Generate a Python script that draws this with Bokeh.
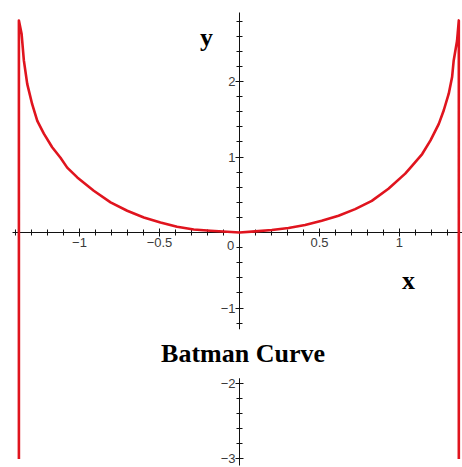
from bokeh.plotting import figure
from bokeh.models import FixedTicker, Label, Range1d, ColumnDataSource
from bokeh.embed import file_html
from bokeh.resources import INLINE

# Curve traced as a single path: left vertical branch, the bowl, right vertical branch
curve_x = [-1.379, -1.379, -1.362, -1.348, -1.327, -1.296, -1.264, -1.223, -1.171,
           -1.119, -1.077, -1.014, -0.911, -0.806, -0.702, -0.598, -0.494, -0.390,
           -0.286, -0.181, -0.077, 0.0, 0.098, 0.202, 0.306, 0.410, 0.514, 0.619,
           0.723, 0.827, 0.931, 1.036, 1.069, 1.142, 1.194, 1.246, 1.277, 1.308,
           1.329, 1.339, 1.360, 1.371, 1.371]
curve_y = [-3.0, 2.81, 2.63, 2.28, 1.97, 1.70, 1.48, 1.31, 1.13,
           0.99, 0.86, 0.73, 0.554, 0.40, 0.289, 0.20, 0.134, 0.077,
           0.041, 0.024, 0.010, 0.0, 0.015, 0.033, 0.060, 0.10, 0.157, 0.223,
           0.31, 0.42, 0.58, 0.78, 0.86, 1.04, 1.22, 1.44, 1.62, 1.84,
           2.06, 2.28, 2.54, 2.81, -3.0]

x_major = [-1, -0.5, 0, 0.5, 1]
x_minor = [round(-1.4 + 0.1 * i, 1) for i in range(28)]
y_major = [-3, -2, -1, 0, 1, 2]
y_minor = [round(-3.0 + 0.2 * i, 1) for i in range(30)]

title_text = "Batman Curve"
x_name = "x"
y_name = "y"

p = figure(width=462, height=467,
           x_range=Range1d(-1.494, 1.394), y_range=Range1d(-3.113, 3.074),
           output_backend="svg", toolbar_location=None, min_border=0)
p.outline_line_color = None
p.background_fill_color = "white"
p.border_fill_color = "white"
p.xgrid.visible = False
p.ygrid.visible = False

for ax in (p.xaxis[0], p.yaxis[0]):
    ax.fixed_location = 0
    ax.axis_line_color = "#111111"
    ax.axis_line_width = 1
    ax.major_tick_line_color = "#111111"
    ax.minor_tick_line_color = "#111111"
    ax.major_tick_in = 4
    ax.major_tick_out = 4
    ax.minor_tick_in = 3
    ax.minor_tick_out = 3
    ax.major_label_text_font = "Liberation Sans"
    ax.major_label_text_font_size = "13px"
    ax.major_label_text_color = "#3a3a3a"

p.xaxis.ticker = FixedTicker(ticks=x_major, minor_ticks=x_minor)
p.xaxis.bounds = (-1.42, 1.40)
p.xaxis.major_label_overrides = {0: ""}
p.xaxis.major_label_standoff = 1

p.yaxis.ticker = FixedTicker(ticks=y_major, minor_ticks=y_minor)
p.yaxis.bounds = (-3.08, 2.92)
p.yaxis.major_label_overrides = {0: ""}
p.yaxis.major_label_standoff = 0

src = ColumnDataSource(data=dict(x=curve_x, y=curve_y))
p.line("x", "y", source=src, line_color="#e0141e", line_width=2.6,
       line_join="round", level="overlay")

# origin label sits just left of the vertical axis
p.add_layout(Label(x=0, y=0, text="0", x_offset=-9, y_offset=-13,
                   text_align="center", text_baseline="middle",
                   text_font="Liberation Sans", text_font_size="13px",
                   text_color="#3a3a3a"))

serif = dict(text_font="Liberation Serif", text_font_style="bold",
             text_font_size="26px", text_color="black",
             text_align="center", text_baseline="alphabetic")
p.add_layout(Label(x=-0.206, y=2.59, text=y_name, **serif))
p.add_layout(Label(x=1.056, y=-0.637, text=x_name, **serif))
p.add_layout(Label(x=0.022, y=-1.605, text=title_text,
                   background_fill_color="white", padding=10, **serif))

open("out.html", "w").write(file_html(p, INLINE))
